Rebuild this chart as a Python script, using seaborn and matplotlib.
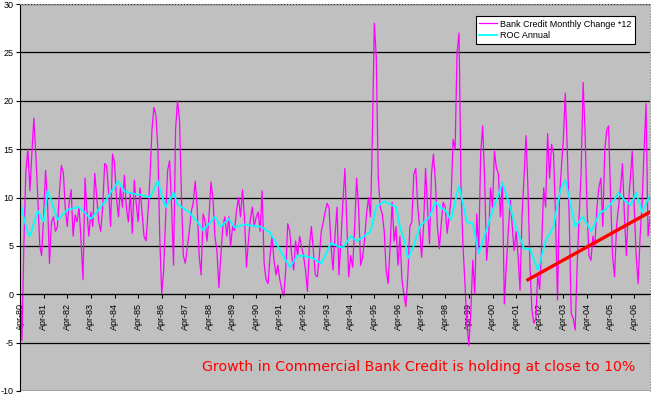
import matplotlib
matplotlib.use('Agg')
import matplotlib.pyplot as plt
import numpy as np
import pandas as pd
import seaborn as sns

# monthly series start Apr-1980, one row per Apr..Mar year
monthly_change = [
    0.5, -4.8, 5.5, 12.8, 15.0, 10.7, 14.5, 18.2, 14.5, 10.0, 5.0, 4.0,      # 80/81
    8.0, 12.8, 9.5, 3.2, 7.5, 8.0, 6.5, 7.0, 10.5, 13.3, 12.5, 9.0,          # 81/82
    7.0, 9.5, 10.8, 6.0, 8.2, 7.5, 9.0, 5.5, 1.5, 12.0, 8.5, 6.0,            # 82/83
    8.5, 7.0, 12.5, 10.0, 7.5, 6.5, 9.0, 13.5, 13.3, 10.5, 7.0, 14.5,        # 83/84
    13.6, 10.0, 8.0, 11.0, 9.0, 12.3, 9.0, 7.5, 10.5, 6.3, 11.8, 9.5,        # 84/85
    7.5, 11.0, 8.5, 6.0, 5.5, 8.5, 12.0, 17.0, 19.3, 18.5, 15.0, 6.0,        # 85/86
    0.0, 2.5, 8.0, 12.8, 13.8, 9.0, 3.0, 17.0, 20.0, 18.0, 10.0, 4.0,        # 86/87
    3.2, 4.8, 6.5, 8.5, 9.5, 11.7, 9.0, 4.0, 2.0, 8.3, 7.5, 5.5,             # 87/88
    8.0, 11.6, 10.0, 6.0, 4.5, 0.7, 4.0, 7.0, 8.0, 6.0, 8.0, 5.0,            # 88/89
    7.0, 6.6, 8.7, 10.0, 8.0, 10.8, 8.0, 2.8, 5.5, 7.8, 9.0, 7.0,            # 89/90
    8.0, 8.5, 6.5, 10.7, 3.2, 1.5, 1.1, 4.0, 6.0, 3.5, 2.0, 3.0,             # 90/91
    1.5, 0.5, -0.2, 2.5, 7.3, 6.5, 4.0, 2.5, 5.5, 4.0, 6.0, 5.0,             # 91/92
    4.0, 2.5, 0.3, 5.0, 7.0, 4.5, 2.0, 1.8, 4.0, 6.5, 7.5, 8.5,              # 92/93
    9.4, 9.0, 5.0, 2.5, 6.0, 9.0, 2.0, 5.5, 9.5, 13.0, 7.0, 1.8,             # 93/94
    4.0, 2.8, 7.0, 12.0, 9.0, 3.0, 3.8, 5.6, 8.3, 10.0, 8.0, 16.0,           # 94/95
    28.0, 24.5, 12.0, 9.0, 8.3, 6.5, 2.5, 1.1, 5.0, 9.5, 5.5, 7.0,           # 95/96
    3.0, 6.0, 1.5, 0.0, -1.3, 2.0, 7.0, 7.5, 12.4, 13.0, 9.0, 7.0,           # 96/97
    3.8, 7.0, 13.0, 9.0, 5.2, 12.5, 14.5, 11.5, 7.0, 4.7, 7.5, 9.5,          # 97/98
    9.0, 6.3, 8.0, 10.0, 16.0, 15.0, 25.0, 27.0, 11.0, 5.0, 1.0, -3.0,       # 98/99
    -5.3, -2.0, 3.5, 0.0, 8.3, 4.5, 14.5, 17.4, 12.0, 3.5, 6.0, 11.0,        # 99/00
    9.0, 14.8, 13.0, 12.5, 8.0, 11.5, -1.0, 3.0, 6.5, 9.7, 7.0, 4.5,         # 00/01
    6.5, 4.0, 0.4, 8.0, 12.0, 16.4, 11.0, 3.0, -1.6, -3.0, -2.5, 2.0,        # 01/02
    0.5, 5.0, 11.0, 9.0, 16.6, 12.0, 15.5, 14.5, 8.0, -0.6, 10.0, 13.0,      # 02/03
    16.0, 20.8, 15.0, 8.0, -2.0, -2.5, -3.7, 3.0, 8.0, 12.5, 21.9, 17.0,     # 03/04
    9.0, 4.0, 3.5, 6.0, 5.0, 9.0, 11.0, 12.0, 7.0, 15.0, 17.0, 17.4,         # 04/05
    10.0, 4.0, 1.8, 7.0, 9.0, 11.0, 13.5, 8.0, 4.0, 9.5, 12.0, 14.8,         # 05/06
    9.0, 4.0, 1.1, 6.0, 9.5, 15.0, 19.7, 6.0, 8.0,                           # 06
]

roc_annual = [
    9.7, 8.8, 7.9, 7.0, 6.4, 6.0, 6.6, 7.3, 8.0, 8.6, 8.2, 7.8,
    7.5, 9.1, 10.7, 10.2, 9.6, 8.9, 8.3, 7.7, 7.9, 8.1, 8.3, 8.5,
    8.7, 8.8, 8.8, 8.9, 8.9, 9.0, 9.0, 8.8, 8.6, 8.4, 8.2, 8.0,
    7.8, 8.0, 8.3, 8.5, 8.8, 9.0, 9.3, 9.5, 9.8, 10.2, 10.5, 10.8,
    11.0, 11.4, 11.7, 11.3, 11.0, 10.6, 10.6, 10.5, 10.5, 10.4, 10.4, 10.3,
    10.3, 10.3, 10.2, 10.2, 10.1, 10.1, 10.0, 10.4, 10.8, 11.3, 11.7, 11.0,
    10.3, 9.6, 9.0, 9.4, 9.8, 10.1, 10.5, 9.9, 9.3, 9.2, 9.0, 8.9,
    8.7, 8.6, 8.5, 8.2, 8.0, 7.7, 7.5, 7.2, 6.9, 6.6, 6.8, 7.1,
    7.3, 7.5, 7.8, 8.0, 7.7, 7.3, 7.0, 7.2, 7.4, 7.6, 7.8, 7.5,
    7.2, 6.9, 7.0, 7.0, 7.1, 7.1, 7.2, 7.2, 7.1, 7.1, 7.1, 7.1,
    7.0, 7.0, 7.0, 6.9, 6.8, 6.6, 6.5, 6.4, 6.0, 5.7, 5.3, 5.0,
    4.6, 4.3, 3.9, 3.5, 3.2, 2.8, 3.1, 3.4, 3.7, 4.0, 4.0, 3.9,
    4.0, 3.9, 3.9, 3.8, 3.8, 3.7, 3.6, 3.4, 3.3, 3.2, 3.6, 4.0,
    4.4, 4.9, 5.3, 5.2, 5.1, 5.0, 4.9, 4.9, 4.8, 5.1, 5.4, 5.7,
    6.0, 5.8, 5.7, 5.5, 5.6, 5.8, 5.9, 6.0, 6.2, 6.3, 6.5, 7.3,
    8.2, 9.0, 9.2, 9.3, 9.5, 9.6, 9.5, 9.4, 9.3, 9.2, 9.1, 9.0,
    8.0, 7.0, 6.3, 5.7, 5.0, 3.7, 4.1, 4.6, 5.0, 5.7, 6.3, 7.0,
    7.2, 7.4, 7.6, 7.8, 8.0, 8.5, 9.0, 9.5, 9.3, 9.1, 8.9, 8.8,
    8.7, 8.4, 8.0, 7.7, 8.6, 9.5, 10.4, 11.2, 10.3, 9.4, 8.4, 7.5,
    7.4, 7.4, 7.3, 6.3, 5.2, 4.2, 4.8, 5.4, 6.1, 6.7, 7.4, 8.0,
    8.6, 9.2, 9.8, 10.3, 10.9, 11.5, 10.9, 10.3, 9.6, 9.0, 8.2, 7.5,
    6.9, 6.4, 5.8, 5.3, 4.7, 4.7, 4.7, 4.7, 4.1, 3.6, 3.0, 2.5,
    3.2, 4.0, 4.7, 5.5, 5.9, 6.2, 6.6, 7.0, 8.2, 9.2, 10.3, 11.0,
    11.5, 11.8, 10.9, 10.0, 9.0, 8.0, 7.0, 7.3, 7.5, 7.8, 8.0, 7.6,
    7.3, 6.9, 6.5, 6.9, 7.3, 7.8, 8.3, 8.4, 8.6, 8.7, 8.9, 9.1,
    9.3, 9.6, 9.8, 10.1, 10.5, 10.2, 10.0, 9.7, 9.5, 9.4, 9.2, 9.6,
    10.0, 10.5, 9.8, 9.2, 8.5, 9.0, 9.4, 9.8, 10.3,
]

trend_dates = ['2001-10-01', '2006-12-01']
trend_values = [1.5, 8.5]

label_years = list(range(1980, 2007))
y_ticks = [-10, -5, 0, 5, 10, 15, 20, 25, 30]
note = 'Growth in Commercial Bank Credit is holding at close to 10%'

dates = pd.date_range('1980-04-01', periods=len(monthly_change), freq='MS')
df = pd.DataFrame({'date': dates, 'monthly': monthly_change, 'roc': roc_annual})

plt.rcParams['font.family'] = ['Liberation Sans', 'DejaVu Sans']
fig = plt.figure(figsize=(6.51, 3.95), dpi=100)
ax = fig.add_axes([20 / 651, 4 / 395, 630 / 651, 387 / 395])
ax.set_facecolor('#C0C0C0')

sns.lineplot(data=df, x='date', y='monthly', color='#FF00FF', linewidth=0.9,
             label='Bank Credit Monthly Change *12', ax=ax)
sns.lineplot(data=df, x='date', y='roc', color='#00FFFF', linewidth=1.3,
             label='ROC Annual', ax=ax)
sns.lineplot(x=pd.to_datetime(trend_dates), y=trend_values, color='#FF0000',
             linewidth=2.4, legend=False, ax=ax)

ax.set_ylim(-10, 30)
ax.set_xlim(dates[0], dates[-1])
ax.set_yticks(y_ticks)
ax.set_yticklabels([str(v) for v in y_ticks])
ax.yaxis.grid(True, color='black', linewidth=0.9)
ax.set_axisbelow(True)

tick_dates = pd.to_datetime([f'{y}-04-01' for y in label_years])
ax.set_xticks(tick_dates)
ax.set_xticklabels([f'Apr-{y % 100:02d}' for y in label_years])
ax.tick_params(axis='x', length=3, pad=3, direction='out',
               labelrotation=90, labelsize=6.5)
ax.tick_params(axis='y', length=3, pad=1.5, labelsize=6.5)
ax.set_xlabel('')
ax.set_ylabel('')

ax.spines['bottom'].set_position(('data', 0))
ax.spines['bottom'].set_color('black')
ax.spines['left'].set_color('black')
for s in ['top', 'right']:
    ax.spines[s].set_color('#A0A0A0')
    ax.spines[s].set_linestyle(':')

leg = ax.legend(loc='upper right', bbox_to_anchor=(0.976, 0.969), fontsize=6.5,
                frameon=True, fancybox=False, framealpha=1, edgecolor='black',
                borderaxespad=0, handlelength=2.0, handletextpad=0.3,
                borderpad=0.4, labelspacing=0.3)
leg.get_frame().set_linewidth(0.8)

ax.text(0.632, -7.5, note, color='red', fontsize=10.2, family='DejaVu Sans',
        ha='center', va='center', transform=ax.get_yaxis_transform())

fig.savefig('out.png', dpi=100, facecolor='white')
